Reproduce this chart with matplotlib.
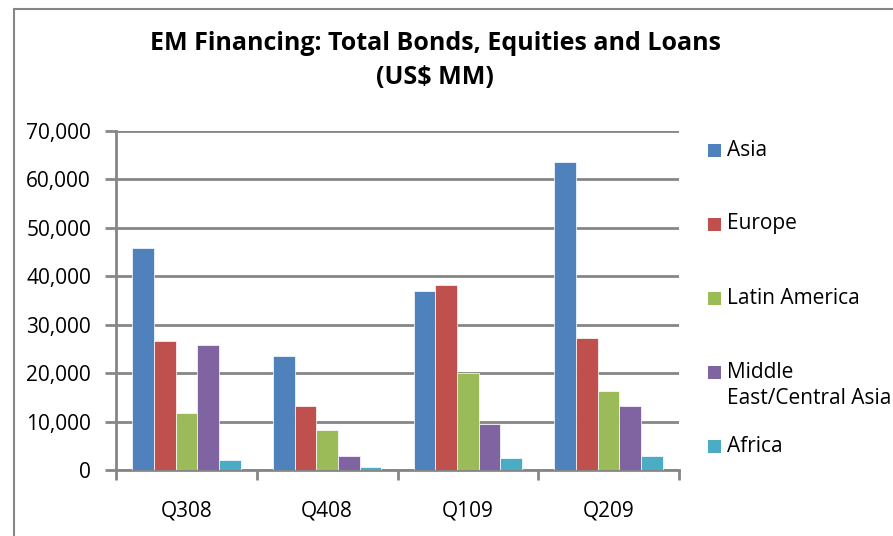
import matplotlib
matplotlib.use("Agg")
import matplotlib.pyplot as plt
import numpy as np
from matplotlib.patches import Rectangle
from matplotlib.ticker import FuncFormatter

quarters = ["Q308", "Q408", "Q109", "Q209"]
regions = ["Asia", "Europe", "Latin America", "Middle\nEast/Central Asia", "Africa"]
asia = [45800, 23500, 36900, 63600]
europe = [26600, 13200, 38100, 27300]
latam = [11700, 8300, 20000, 16300]
mideast = [25800, 2950, 9400, 13200]
africa = [2100, 600, 2500, 2950]
series = [asia, europe, latam, mideast, africa]
colors = ["#4F81BD", "#C0504D", "#9BBB59", "#8064A2", "#4BACC6"]

plt.rcParams['font.family'] = ['Open Sans', 'DejaVu Sans']

W, H = 893, 536
fig = plt.figure(figsize=(W / 100, H / 100), dpi=100)

# outer chart border
fig.patches.append(Rectangle((14 / W, -0.1), 1.2, 1 - 9 / H + 0.1, transform=fig.transFigure,
                             fill=False, edgecolor="#868686", linewidth=1.5, zorder=0))

left, right, top, bottom = 116, 679, 131, 470
ax = fig.add_axes([left / W, 1 - bottom / H, (right - left) / W, (bottom - top) / H])

n = len(series)
group = 5 / 6.5
bw = group / n
x = np.arange(len(quarters))
for i, (vals, c, name) in enumerate(zip(series, colors, regions)):
    ax.bar(x - group / 2 + bw * (i + 0.5), vals, width=bw, color=c, label=name,
           edgecolor="white", linewidth=0.5, zorder=3)

ax.set_xlim(-0.5, len(quarters) - 0.5)
ax.set_ylim(0, 70000)
ax.set_yticks(np.arange(0, 70001, 10000))
ax.yaxis.set_major_formatter(FuncFormatter(lambda v, p: f"{int(v):,}"))
ax.grid(axis="y", color="#868686", linewidth=2, zorder=0)
ax.set_axisbelow(True)

ax.set_xticks(x)
ax.set_xticklabels(quarters)
ax.set_xticks(np.arange(-0.5, len(quarters), 1), minor=True)
ax.tick_params(axis="x", which="major", length=0, pad=22, labelsize=15)
ax.tick_params(axis="x", which="minor", length=7, width=2, color="#868686", direction="out")
ax.tick_params(axis="y", length=8, width=2, color="#868686", direction="out", pad=10, labelsize=15)

for s in ["top", "right"]:
    ax.spines[s].set_visible(False)
for s in ["left", "bottom"]:
    ax.spines[s].set_color("#868686")
    ax.spines[s].set_linewidth(2)

fig.text(435 / W, 1 - 43 / H, "EM Financing: Total Bonds, Equities and Loans", ha="center",
         va="center", fontsize=18, fontweight="bold")
fig.text(435 / W, 1 - 78 / H, "(US$ MM)", ha="center", va="center", fontsize=18, fontweight="bold")

# legend drawn manually to mimic Excel spacing
y0, step = 150, 74
for i, (name, c) in enumerate(zip(regions, colors)):
    yc = y0 + step * i
    fig.patches.append(Rectangle((708 / W, 1 - (yc + 6.5) / H), 13 / W, 13 / H,
                                 transform=fig.transFigure, facecolor=c, edgecolor="none"))
    for j, line in enumerate(name.split("\n")):
        fig.text(727 / W, 1 - (yc + 27 * j) / H, line, ha="left", va="center", fontsize=15)

fig.savefig("out.png", dpi=100)
